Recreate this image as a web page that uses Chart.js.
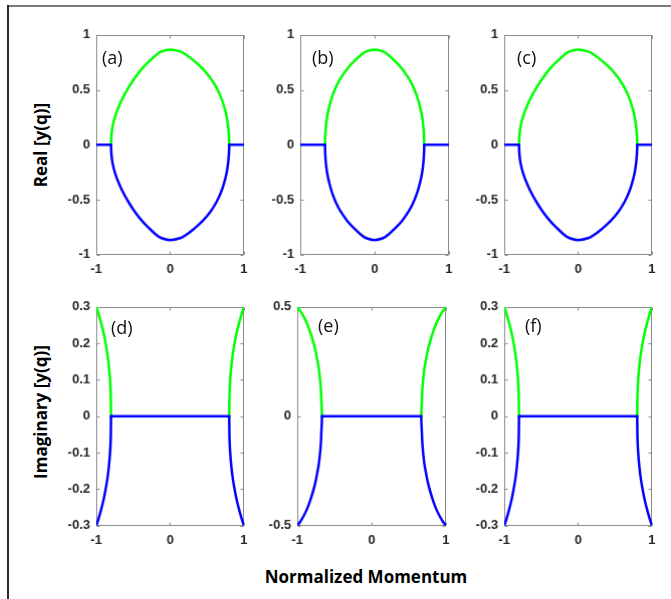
<!DOCTYPE html>
<html>
<head>
<meta charset="utf-8">
<script src="https://cdn.jsdelivr.net/npm/chart.js@4"></script>
<style>
    body { margin: 0; width: 671px; height: 599px; background: #fff; position: relative; overflow: hidden; font-family: "Open Sans", sans-serif; }
    .marco-sup { position: absolute; left: 8px; top: 5px; width: 663px; height: 2px; background: #7a7a7a; }
    .marco-izq { position: absolute; left: 7px; top: 5px; width: 2px; height: 594px; background: #2a2a2a; }
    .panel { position: absolute; }
    .letra { position: absolute; font-size: 18px; line-height: 20px; color: #111; }
    .titulo { position: absolute; font-weight: bold; font-size: 17px; color: #000; white-space: nowrap; transform: translate(-50%, -50%); }
    .titulo.vertical { transform: translate(-50%, -50%) rotate(-90deg); }
</style>
</head>
<body>
<div class="marco-sup"></div>
<div class="marco-izq"></div>
<div class="titulo vertical" style="left:40px; top:145px;">Real [y(q)]</div>
<div class="titulo vertical" style="left:40px; top:412px;">Imaginary [y(q)]</div>
<div class="titulo" style="left:366px; top:576px;">Normalized Momentum</div>

<script>
// Ticks
const ticksQ = [-1, 0, 1];
const ticksReal = [-1, -0.5, 0, 0.5, 1];
const ticksImagDF = [-0.3, -0.2, -0.1, 0, 0.1, 0.2, 0.3];
const ticksImagE = [-0.5, 0, 0.5];

// Parte real (a) y (c) - umbral 0.8, pico 0.866 en q = 0
const qA = [-0.8, -0.798, -0.792, -0.778, -0.744, -0.696, -0.636, -0.564, -0.48, -0.38, -0.28, -0.196, -0.116, 0,
            0.136, 0.228, 0.328, 0.44, 0.548, 0.628, 0.688, 0.732, 0.764, 0.784, 0.794, 0.799, 0.8];
const reSupA = [0, 0.043, 0.104, 0.173, 0.26, 0.346, 0.433, 0.52, 0.606, 0.693, 0.762, 0.814, 0.849, 0.866,
                0.849, 0.814, 0.762, 0.693, 0.606, 0.52, 0.433, 0.346, 0.26, 0.173, 0.104, 0.043, 0];
const reInfA = [0, -0.043, -0.104, -0.173, -0.26, -0.346, -0.433, -0.52, -0.606, -0.693, -0.762, -0.814, -0.849, -0.866,
                -0.849, -0.814, -0.762, -0.693, -0.606, -0.52, -0.433, -0.346, -0.26, -0.173, -0.104, -0.043, 0];

// Parte real (b) - umbral 0.667
const qB = [-0.667, -0.666, -0.662, -0.654, -0.637, -0.61, -0.574, -0.524, -0.457, -0.367, -0.273, -0.19, -0.113, 0,
            0.113, 0.19, 0.273, 0.367, 0.457, 0.524, 0.574, 0.61, 0.637, 0.654, 0.662, 0.666, 0.667];
const reSupB = [0, 0.043, 0.104, 0.173, 0.26, 0.346, 0.433, 0.52, 0.606, 0.693, 0.762, 0.814, 0.849, 0.866,
                0.849, 0.814, 0.762, 0.693, 0.606, 0.52, 0.433, 0.346, 0.26, 0.173, 0.104, 0.043, 0];
const reInfB = [0, -0.043, -0.104, -0.173, -0.26, -0.346, -0.433, -0.52, -0.606, -0.693, -0.762, -0.814, -0.849, -0.866,
                -0.849, -0.814, -0.762, -0.693, -0.606, -0.52, -0.433, -0.346, -0.26, -0.173, -0.104, -0.043, 0];

// Parte imaginaria (d) y (f)
const qIzqD = [-1, -0.968, -0.94, -0.914, -0.892, -0.873, -0.848, -0.83, -0.813, -0.804, -0.8];
const imSupIzqD = [0.3, 0.28, 0.26, 0.24, 0.22, 0.2, 0.17, 0.14, 0.1, 0.06, 0];
const imInfIzqD = [-0.3, -0.28, -0.26, -0.24, -0.22, -0.2, -0.17, -0.14, -0.1, -0.06, 0];
const qDerD = [0.8, 0.804, 0.813, 0.83, 0.848, 0.873, 0.892, 0.914, 0.94, 0.968, 1];
const imSupDerD = [0, 0.06, 0.1, 0.14, 0.17, 0.2, 0.22, 0.24, 0.26, 0.28, 0.3];
const imInfDerD = [0, -0.06, -0.1, -0.14, -0.17, -0.2, -0.22, -0.24, -0.26, -0.28, -0.3];

// Parte imaginaria (e)
const qIzqE = [-1, -0.957, -0.915, -0.864, -0.821, -0.785, -0.757, -0.732, -0.714, -0.7, -0.688, -0.68, -0.676, -0.67, -0.667];
const imSupIzqE = [0.5, 0.48, 0.456, 0.42, 0.38, 0.34, 0.303, 0.26, 0.227, 0.19, 0.15, 0.11, 0.074, 0.035, 0];
const imInfIzqE = [-0.5, -0.48, -0.456, -0.42, -0.38, -0.34, -0.303, -0.26, -0.227, -0.19, -0.15, -0.11, -0.074, -0.035, 0];
const qDerE = [0.667, 0.67, 0.676, 0.68, 0.688, 0.7, 0.714, 0.732, 0.757, 0.785, 0.821, 0.864, 0.915, 0.957, 1];
const imSupDerE = [0, 0.035, 0.074, 0.11, 0.15, 0.19, 0.227, 0.26, 0.303, 0.34, 0.38, 0.42, 0.456, 0.48, 0.5];
const imInfDerE = [0, -0.035, -0.074, -0.11, -0.15, -0.19, -0.227, -0.26, -0.303, -0.34, -0.38, -0.42, -0.456, -0.48, -0.5];

const VERDE = '#00ff00';
const AZUL = '#0000ff';

function puntos(xs, ys) {
    return xs.map((x, i) => ({ x: x, y: ys[i] }));
}

function serie(xs, ys, color, curva) {
    return {
        data: puntos(xs, ys),
        showLine: true,
        borderColor: color,
        borderWidth: 2.5,
        borderCapStyle: 'round',
        borderJoinStyle: 'round',
        pointRadius: 0,
        tension: curva ? 0.4 : 0,
        order: color === AZUL ? 0 : 1
    };
}

// Caja con marcas interiores estilo MATLAB
const marcoEjes = {
    id: 'marcoEjes',
    beforeDatasetsDraw(chart) {
        const { ctx, chartArea: a, scales } = chart;
        const l = Math.round(a.left) + 0.5, r = Math.round(a.right) - 0.5;
        const t = Math.round(a.top) + 0.5, b = Math.round(a.bottom) - 0.5;
        const largo = 3;
        ctx.save();
        ctx.strokeStyle = '#8a8a8a';
        ctx.lineWidth = 1;
        ctx.strokeRect(l, t, r - l, b - t);
        ctx.beginPath();
        scales.x.ticks.forEach(tk => {
            const px = Math.round(scales.x.getPixelForValue(tk.value)) + 0.5;
            ctx.moveTo(px, b); ctx.lineTo(px, b - largo);
            ctx.moveTo(px, t); ctx.lineTo(px, t + largo);
        });
        scales.y.ticks.forEach(tk => {
            const py = Math.round(scales.y.getPixelForValue(tk.value)) + 0.5;
            ctx.moveTo(l, py); ctx.lineTo(l + largo, py);
            ctx.moveTo(r, py); ctx.lineTo(r - largo, py);
        });
        ctx.stroke();
        ctx.restore();
    }
};

function crearPanel(area, ticksY, datasets, letra, posLetra) {
    const ANCHO_Y = 50, ALTO_X = 30, PAD_DER = 8;
    const [l, t, r, b] = area;
    const div = document.createElement('div');
    div.className = 'panel';
    div.style.width = (ANCHO_Y + r - l + PAD_DER) + 'px';
    div.style.height = (10 + b - t + ALTO_X) + 'px';
    const canvas = document.createElement('canvas');
    div.appendChild(canvas);
    document.body.appendChild(div);

    const fuenteTicks = { family: 'Liberation Sans', weight: 'bold', size: 13 };
    const grafico = new Chart(canvas, {
        type: 'scatter',
        data: { datasets: datasets },
        options: {
            responsive: true,
            maintainAspectRatio: false,
            animation: false,
            layout: { padding: { top: 0, right: PAD_DER, left: 0, bottom: 0 } },
            plugins: { legend: { display: false }, tooltip: { enabled: false } },
            scales: {
                x: {
                    type: 'linear',
                    min: ticksQ[0],
                    max: ticksQ[ticksQ.length - 1],
                    afterBuildTicks: s => { s.ticks = ticksQ.map(v => ({ value: v })); },
                    afterFit: s => { s.height = ALTO_X; },
                    grid: { display: false, drawTicks: false },
                    border: { display: false },
                    ticks: { padding: 7, color: '#262626', font: fuenteTicks, maxRotation: 0, callback: v => String(v) }
                },
                y: {
                    type: 'linear',
                    min: ticksY[0],
                    max: ticksY[ticksY.length - 1],
                    afterBuildTicks: s => { s.ticks = ticksY.map(v => ({ value: v })); },
                    afterFit: s => { s.width = ANCHO_Y; },
                    grid: { display: false, drawTicks: false },
                    border: { display: false },
                    ticks: { padding: 6, color: '#262626', font: fuenteTicks, callback: v => String(v) }
                }
            }
        },
        plugins: [marcoEjes]
    });

    // Ajustar el contenedor para que el área de trazado caiga donde debe
    let a = grafico.chartArea;
    const w = a.left + (r - l) + (grafico.width - a.right);
    const h = a.top + (b - t) + (grafico.height - a.bottom);
    div.style.width = w + 'px';
    div.style.height = h + 'px';
    grafico.resize();
    a = grafico.chartArea;
    div.style.left = (l - a.left) + 'px';
    div.style.top = (t - a.top) + 'px';

    const et = document.createElement('div');
    et.className = 'letra';
    et.textContent = letra;
    et.style.left = posLetra[0] + 'px';
    et.style.top = (posLetra[1] - 10) + 'px';
    document.body.appendChild(et);
}

function panelReal(area, q, sup, inf, letra, posLetra) {
    crearPanel(area, ticksReal, [
        serie([-1, q[0]], [0, 0], AZUL, false),
        serie(q, inf, AZUL, true),
        serie([q[q.length - 1], 1], [0, 0], AZUL, false),
        serie(q, sup, VERDE, true)
    ], letra, posLetra);
}

function panelImag(area, ticksY, qIzq, supIzq, infIzq, qDer, supDer, infDer, letra, posLetra) {
    crearPanel(area, ticksY, [
        serie(qIzq, infIzq, AZUL, true),
        serie([qIzq[qIzq.length - 1], qDer[0]], [0, 0], AZUL, false),
        serie(qDer, infDer, AZUL, true),
        serie(qIzq, supIzq, VERDE, true),
        serie(qDer, supDer, VERDE, true)
    ], letra, posLetra);
}

panelReal([96, 35, 243, 254], qA, reSupA, reInfA, '(a)', [102, 57]);
panelReal([300, 35, 448, 254], qB, reSupB, reInfB, '(b)', [312, 57]);
panelReal([504, 35, 651, 254], qA, reSupA, reInfA, '(c)', [517, 57]);
panelImag([96, 307, 243, 525], ticksImagDF, qIzqD, imSupIzqD, imInfIzqD, qDerD, imSupDerD, imInfDerD, '(d)', [111, 327]);
panelImag([297, 307, 445, 525], ticksImagE, qIzqE, imSupIzqE, imInfIzqE, qDerE, imSupDerE, imInfDerE, '(e)', [318, 325]);
panelImag([504, 307, 651, 525], ticksImagDF, qIzqD, imSupIzqD, imInfIzqD, qDerD, imSupDerD, imInfDerD, '(f)', [525, 325]);
</script>
</body>
</html>
